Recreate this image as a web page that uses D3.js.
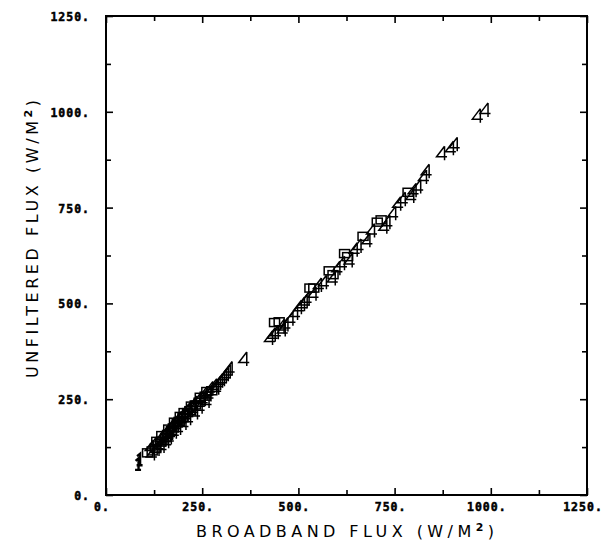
<!DOCTYPE html>
<html>
<head>
<meta charset="utf-8">
<script src="https://cdn.jsdelivr.net/npm/d3@7"></script>
<style>
  body { margin: 0; background: #fff; }
  svg { display: block; }
</style>
</head>
<body>
<div id="chart"></div>
<script>
// tick values
const majorTicks = [0, 250, 500, 750, 1000, 1250];
const minorTicks = [125, 375, 625, 875, 1125];

// broadband flux (x), unfiltered flux (y), one array per plot symbol
const symOne = [[82, 80], [86, 92]];

const symFour = [
  [115, 125], [118, 108], [125, 135], [130, 120], [135, 130], [140, 148],
  [143, 128], [148, 145], [152, 160], [155, 140], [158, 168], [162, 150],
  [165, 162], [168, 178], [172, 185], [175, 165], [180, 182], [183, 195],
  [186, 175], [188, 200], [195, 198], [198, 210], [200, 188], [205, 208],
  [208, 220], [212, 200], [215, 228], [225, 225], [228, 240], [230, 215],
  [238, 248], [242, 230], [250, 250], [255, 265], [260, 245], [265, 262],
  [270, 278], [280, 285], [285, 280], [290, 292], [295, 298], [300, 302],
  [305, 310], [310, 315], [315, 322], [320, 330], [358, 355],
  [425, 410], [432, 418], [440, 425], [455, 440], [458, 432], [465, 445],
  [478, 460], [490, 475], [500, 490], [508, 498], [515, 505], [520, 512],
  [538, 525], [552, 548], [565, 555], [588, 565], [600, 592], [612, 605],
  [632, 612], [645, 640], [655, 650], [678, 665], [690, 690], [722, 700],
  [730, 712], [745, 735], [758, 760], [770, 772], [792, 780], [798, 795],
  [810, 805], [825, 830], [832, 845], [872, 892], [895, 905], [905, 915],
  [965, 990], [985, 1005]
];

const symSquare = [
  [108, 110], [120, 115], [128, 122], [132, 140], [142, 138], [145, 155],
  [155, 150], [160, 158], [163, 172], [170, 168], [175, 175], [178, 190],
  [185, 188], [190, 192], [193, 205], [200, 202], [203, 215], [212, 215],
  [218, 220], [222, 232], [232, 235], [242, 242], [245, 255], [258, 258],
  [262, 270], [275, 272],
  [438, 450], [450, 452], [530, 540], [540, 540], [580, 585], [590, 575],
  [620, 630], [628, 622], [668, 675], [705, 712], [715, 718], [785, 790]
];

const W = 605, H = 548;
const plot = {left: 106, right: 587, top: 16, bottom: 495};

const svg = d3.select("#chart")
  .append("svg")
    .attr("width", W)
    .attr("height", H);

const x = d3.scaleLinear().domain([0, 1250]).range([plot.left, plot.right]);
const y = d3.scaleLinear().domain([0, 1250]).range([plot.bottom, plot.top]);

// ticks, all pointing inward
function ticks(axis, transform, size, values) {
  const g = svg.append("g")
    .attr("transform", transform)
    .call(axis.tickValues(values).tickSize(-size).tickFormat(""));
  g.select(".domain").remove();
  g.selectAll("line").attr("stroke", "#000").attr("stroke-width", 1.6);
  return g;
}
ticks(d3.axisBottom(x), `translate(0,${plot.bottom})`, 7, majorTicks);
ticks(d3.axisBottom(x), `translate(0,${plot.bottom})`, 5, minorTicks);
ticks(d3.axisTop(x), `translate(0,${plot.top})`, 7, majorTicks);
ticks(d3.axisTop(x), `translate(0,${plot.top})`, 5, minorTicks);
ticks(d3.axisLeft(y), `translate(${plot.left},0)`, 7, majorTicks);
ticks(d3.axisLeft(y), `translate(${plot.left},0)`, 5, minorTicks);
ticks(d3.axisRight(y), `translate(${plot.right},0)`, 7, majorTicks);
ticks(d3.axisRight(y), `translate(${plot.right},0)`, 5, minorTicks);

// frame
svg.append("rect")
  .attr("x", plot.left).attr("y", plot.top)
  .attr("width", plot.right - plot.left)
  .attr("height", plot.bottom - plot.top)
  .attr("fill", "none")
  .attr("stroke", "#000")
  .attr("stroke-width", 2);

// tick labels
const labelFont = "'DejaVu Sans Mono', monospace";
function styleLabel(sel) {
  sel.style("font-family", labelFont)
    .style("font-weight", "bold")
    .style("font-size", "11.5px")
    .style("letter-spacing", "1px")
    .attr("stroke", "#000")
    .attr("stroke-width", 0.5)
    .text(d => d + ".");
}
svg.selectAll("xlab")
  .data(majorTicks)
  .join("text")
    .attr("x", d => x(d) - 4)
    .attr("y", plot.bottom + 16)
    .attr("text-anchor", "middle")
    .call(styleLabel);

svg.selectAll("ylab")
  .data(majorTicks)
  .join("text")
    .attr("x", 90)
    .attr("y", d => y(d) + 5)
    .attr("text-anchor", "end")
    .call(styleLabel);

// axis titles
const titleFont = "'DejaVu Sans', sans-serif";
const xt = svg.append("text")
  .attr("x", 196).attr("y", 537)
  .attr("textLength", 298)
  .attr("lengthAdjust", "spacing")
  .style("font-family", titleFont)
  .style("font-size", "16px");
xt.append("tspan").text("BROADBAND FLUX  (W/M");
xt.append("tspan").attr("dy", -6).style("font-size", "11px").style("font-weight", "bold").text("2");
xt.append("tspan").attr("dy", 6).text(")");

const yt = svg.append("text")
  .attr("transform", "translate(38,378) rotate(-90)")
  .attr("x", 0).attr("y", 0)
  .attr("textLength", 278)
  .attr("lengthAdjust", "spacing")
  .style("font-family", titleFont)
  .style("font-size", "16px");
yt.append("tspan").text("UNFILTERED FLUX  (W/M");
yt.append("tspan").attr("dy", -6).style("font-size", "11px").style("font-weight", "bold").text("2");
yt.append("tspan").attr("dy", 6).text(")");

// plot symbols
const glyphFour = "M3,-7 L-5,3.5 L5.5,3.5 M3,-7 L3,7";
const glyphOne = "M-2,-3.5 L1,-6 L1,5.5 M-2.5,5.5 L3.5,5.5";

const marks = svg.append("g")
  .attr("fill", "none")
  .attr("stroke", "#000")
  .attr("stroke-width", 1.5);

marks.selectAll("sq")
  .data(symSquare)
  .join("rect")
    .attr("x", d => x(d[0]) - 5)
    .attr("y", d => y(d[1]) - 4)
    .attr("width", 10)
    .attr("height", 8);

marks.selectAll("four")
  .data(symFour)
  .join("path")
    .attr("transform", d => `translate(${x(d[0])},${y(d[1])})`)
    .attr("d", glyphFour);

marks.selectAll("one")
  .data(symOne)
  .join("path")
    .attr("transform", d => `translate(${x(d[0])},${y(d[1])})`)
    .attr("stroke-width", 2.4)
    .attr("d", glyphOne);
</script>
</body>
</html>
